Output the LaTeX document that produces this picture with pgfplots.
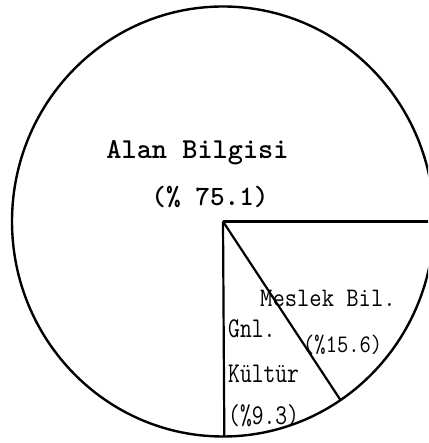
\documentclass[border=0pt]{standalone}
\usepackage{pgfplots}
\pgfplotsset{compat=1.18}
\usepackage{pgfplotstable}

% shares of the three parts (percent)
\pgfplotstableread{
part value
AlanBilgisi 75.1
MeslekBil 15.6
GnlKultur 9.3
}\piedata

\begin{document}
\begin{tikzpicture}
\pgfplotstablegetelem{1}{value}\of\piedata \edef\vMes{\pgfplotsretval}
\pgfplotstablegetelem{2}{value}\of\piedata \edef\vGnl{\pgfplotsretval}
% wedge boundaries, clockwise from the horizontal
\pgfmathsetmacro\aB{-3.6*\vMes}
\pgfmathsetmacro\aC{\aB-3.6*\vGnl}
% pie centre and radii in picture units
\def\cx{223}\def\cy{221.5}\def\rx{211}\def\ry{215}
\pgfmathsetmacro\xA{\cx+\rx}
\pgfmathsetmacro\yA{\cy}
\pgfmathsetmacro\xB{\cx+\rx*cos(\aB)}
\pgfmathsetmacro\yB{\cy+\ry*sin(\aB)}
\pgfmathsetmacro\xC{\cx+\rx*cos(\aC)}
\pgfmathsetmacro\yC{\cy+\ry*sin(\aC)}
\begin{axis}[x=1bp, y=1bp, xmin=0, xmax=428, ymin=0, ymax=443,
  hide axis, clip=true, scale only axis]
  \draw[black, line width=2.4bp] (axis cs:\cx,\cy) ellipse [x radius=\rx, y radius=\ry];
  \addplot[black, line width=2.2bp, no marks] coordinates {(\cx,\cy) (\xA,\yA)};
  \addplot[black, line width=2.2bp, no marks] coordinates {(\cx,\cy) (\xB,\yB)};
  \addplot[black, line width=2.2bp, no marks] coordinates {(\cx,\cy) (\xC,\yC)};

  \node[anchor=base, inner sep=0, font=\ttfamily\bfseries\fontsize{29}{31}\selectfont]
    at (axis cs:197.5,284) {Alan Bilgisi};
  \node[anchor=base, inner sep=0, font=\ttfamily\bfseries\fontsize{28}{30}\selectfont]
    at (axis cs:210,237) {(\% 75.1)};

  \node[anchor=base west, inner sep=0, yscale=1.12, font=\ttfamily\fontsize{24}{26}\selectfont]
    at (axis cs:260,136) {Meslek Bil.};
  \node[anchor=base west, inner sep=0, yscale=1.15, font=\ttfamily\fontsize{22}{24}\selectfont]
    at (axis cs:303,90) {(\%15.6)};

  \node[anchor=base west, inner sep=0, yscale=1.25, font=\ttfamily\fontsize{23}{25}\selectfont]
    at (axis cs:228,105) {Gnl.};
  \node[anchor=base west, inner sep=0, yscale=1.25, font=\ttfamily\fontsize{23}{25}\selectfont]
    at (axis cs:228,60) {Kültür};
  \node[anchor=base west, inner sep=0, yscale=1.25, font=\ttfamily\fontsize{23}{25}\selectfont]
    at (axis cs:228,18) {(\%9.3)};
\end{axis}
\pgfresetboundingbox
\path (current axis.south west) rectangle (current axis.north east);
\end{tikzpicture}
\end{document}
